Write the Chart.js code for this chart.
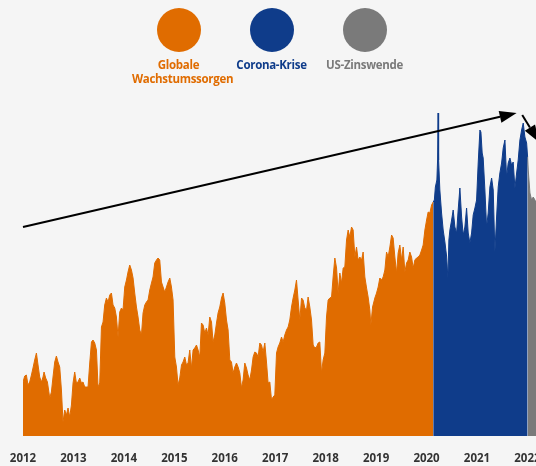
<!DOCTYPE html>
<html>
<head>
<meta charset="utf-8">
<script src="https://cdn.jsdelivr.net/npm/chart.js@4"></script>
<style>
  body { margin: 0; background: #f5f5f5; }
  #wrap { position: relative; width: 536px; height: 466px; overflow: hidden; }
  #myChart { position: absolute; left: 0; top: 0; }
  #legend { position: absolute; left: 132px; top: 8px; display: flex; }
  .item { width: 93px; text-align: center; font: bold 11.5px "Open Sans", sans-serif; line-height: 14.4px; letter-spacing: -0.3px; }
  .dot { width: 44px; height: 44px; border-radius: 50%; margin: 0 auto 6px; }
</style>
</head>
<body>
<div id="wrap">
  <canvas id="myChart" width="536" height="466"></canvas>
  <div id="legend"></div>
</div>
<script>
"use strict";

// decimal years and index level
const years = [
  2012.000, 2012.034, 2012.067, 2012.099, 2012.133, 2012.167, 2012.198, 2012.232, 2012.266, 2012.298, 2012.331, 2012.365, 2012.397, 2012.417, 2012.450, 2012.484, 2012.530, 2012.563, 2012.595, 2012.629, 2012.662, 2012.694, 2012.728, 2012.762, 2012.793, 2012.827, 2012.861, 2012.893, 2012.926, 2012.960, 2012.992,
  2013.025, 2013.059, 2013.091, 2013.125, 2013.158, 2013.190, 2013.224, 2013.257, 2013.289, 2013.323, 2013.357, 2013.388, 2013.422, 2013.456, 2013.488, 2013.521, 2013.555, 2013.587, 2013.620, 2013.654, 2013.686, 2013.720, 2013.753, 2013.785, 2013.819, 2013.852, 2013.884, 2013.918, 2013.952, 2013.983,
  2014.017, 2014.051, 2014.082, 2014.116, 2014.150, 2014.182, 2014.215, 2014.249, 2014.281, 2014.315, 2014.348, 2014.380, 2014.414, 2014.447, 2014.479, 2014.513, 2014.547, 2014.578, 2014.612, 2014.646, 2014.677, 2014.711, 2014.745, 2014.777, 2014.810, 2014.844, 2014.876, 2014.910, 2014.943, 2014.975,
  2015.009, 2015.042, 2015.074, 2015.108, 2015.142, 2015.173, 2015.207, 2015.241, 2015.272, 2015.306, 2015.340, 2015.372, 2015.405, 2015.439, 2015.471, 2015.505, 2015.538, 2015.570, 2015.604, 2015.637, 2015.669, 2015.703, 2015.737, 2015.768, 2015.802, 2015.836, 2015.867, 2015.901, 2015.935, 2015.967,
  2016.000, 2016.034, 2016.066, 2016.100, 2016.133, 2016.165, 2016.199, 2016.232, 2016.264, 2016.298, 2016.332, 2016.363, 2016.397, 2016.431, 2016.462, 2016.496, 2016.530, 2016.562, 2016.595, 2016.629, 2016.661, 2016.695, 2016.728, 2016.760, 2016.794, 2016.827, 2016.859, 2016.893, 2016.927, 2016.958, 2016.992,
  2017.026, 2017.057, 2017.091, 2017.125, 2017.157, 2017.190, 2017.224, 2017.256, 2017.289, 2017.323, 2017.355, 2017.389, 2017.422, 2017.454, 2017.488, 2017.522, 2017.553, 2017.587, 2017.621, 2017.652, 2017.686, 2017.720, 2017.752, 2017.785, 2017.819, 2017.851, 2017.884, 2017.918, 2017.950, 2017.984,
  2018.017, 2018.049, 2018.083, 2018.117, 2018.148, 2018.182, 2018.216, 2018.247, 2018.281, 2018.315, 2018.347, 2018.380, 2018.414, 2018.446, 2018.479, 2018.513, 2018.545, 2018.579, 2018.612, 2018.644, 2018.678, 2018.712, 2018.743, 2018.777, 2018.811, 2018.842, 2018.876, 2018.896, 2018.930, 2018.975,
  2019.009, 2019.041, 2019.074, 2019.108, 2019.140, 2019.174, 2019.207, 2019.239, 2019.273, 2019.307, 2019.338, 2019.372, 2019.406, 2019.437, 2019.471, 2019.505, 2019.537, 2019.570, 2019.604, 2019.636, 2019.669, 2019.703, 2019.735, 2019.769, 2019.802, 2019.834, 2019.868, 2019.902, 2019.933, 2019.967,
  2020.001, 2020.032, 2020.066, 2020.100, 2020.132,
  2020.155, 2020.175, 2020.205, 2020.219, 2020.229, 2020.239, 2020.264, 2020.298, 2020.330, 2020.364, 2020.397, 2020.423, 2020.443, 2020.463, 2020.497, 2020.528, 2020.562, 2020.596, 2020.627, 2020.661, 2020.695, 2020.727, 2020.760, 2020.794, 2020.826, 2020.859, 2020.893, 2020.925, 2020.959, 2020.992,
  2021.024, 2021.058, 2021.078, 2021.103, 2021.123, 2021.157, 2021.191, 2021.222, 2021.256, 2021.290, 2021.322, 2021.355, 2021.389, 2021.421, 2021.454, 2021.488, 2021.520, 2021.554, 2021.587, 2021.619, 2021.653, 2021.687, 2021.718, 2021.752, 2021.786, 2021.817, 2021.851, 2021.885, 2021.917, 2021.950, 2021.984,
  2022.004, 2022.016, 2022.050, 2022.083, 2022.115, 2022.149, 2022.190
];
const values = [
  54, 60, 61, 51, 54, 61, 68, 76, 83, 71, 59, 54, 59, 64, 58, 54, 38, 44, 59, 74, 80, 74, 69, 46, 14, 26, 21, 28, 19, 31, 53,
  64, 53, 54, 58, 53, 54, 49, 49, 49, 73, 94, 96, 93, 86, 49, 53, 109, 114, 131, 138, 134, 141, 143, 131, 128, 119, 99, 124, 128, 126,
  149, 156, 164, 171, 166, 158, 143, 129, 119, 106, 101, 123, 131, 134, 136, 146, 153, 159, 173, 176, 178, 176, 154, 149, 144, 149, 154, 158, 149, 136,
  79, 69, 51, 58, 71, 74, 79, 71, 73, 86, 68, 86, 88, 91, 86, 79, 113, 111, 103, 108, 101, 119, 114, 94, 101, 113, 123, 129, 138, 143,
  133, 116, 106, 76, 74, 63, 69, 73, 69, 63, 48, 56, 73, 68, 61, 56, 66, 79, 84, 83, 79, 93, 91, 84, 93, 74, 53, 54, 36, 39, 41,
  83, 89, 93, 99, 94, 101, 106, 109, 116, 129, 138, 146, 156, 136, 116, 138, 136, 128, 126, 139, 129, 116, 91, 88, 89, 93, 94, 63, 76, 83,
  119, 136, 138, 139, 159, 178, 168, 143, 163, 153, 168, 169, 196, 206, 199, 209, 206, 179, 189, 176, 179, 176, 184, 159, 148, 139, 126, 111, 129, 138,
  143, 149, 158, 156, 159, 166, 184, 179, 189, 201, 198, 179, 163, 183, 191, 176, 189, 164, 173, 176, 184, 179, 168, 176, 178, 179, 181, 186, 191, 206,
  216, 224, 223, 231, 234,
  236, 249, 256, 276, 323, 276, 246, 223, 206, 194, 180, 158, 196, 206, 216, 226, 209, 203, 226, 248, 219, 201, 209, 228, 203, 193, 203, 221, 228, 236,
  273, 306, 304, 283, 278, 246, 209, 223, 249, 258, 246, 184, 219, 249, 263, 273, 288, 296, 259, 273, 278, 271, 274, 248, 263, 276, 296, 306, 313, 299, 293,
  279, 266, 243, 236, 239, 236, 231
];

const phaseNames = ["Globale Wachstumssorgen", "Corona-Krise", "US-Zinswende"];
const phaseEnds = [2020.132, 2022.004, 2022.19];
const phaseColors = ["#e06c00", "#0f3c8a", "#7a7a7a"];
const yearTicks = [2012, 2013, 2014, 2015, 2016, 2017, 2018, 2019, 2020, 2021, 2022];

// trend arrows, in [year, level]
const arrows = [
  { from: [2012.0, 209], to: [2021.786, 323] },
  { from: [2021.897, 321], to: [2022.226, 294] }
];

function phaseData(i) {
  const from = i === 0 ? years[0] : phaseEnds[i - 1];
  const to = phaseEnds[i];
  const pts = [];
  years.forEach((yr, k) => {
    if (yr >= from && yr <= to) pts.push({ x: yr, y: values[k] });
  });
  return pts;
}

const arrowPlugin = {
  id: "arrows",
  afterDatasetsDraw(chart) {
    const ctx = chart.ctx;
    const xs = chart.scales.x;
    const ys = chart.scales.y;
    ctx.save();
    ctx.strokeStyle = "#000";
    ctx.fillStyle = "#000";
    ctx.lineWidth = 2;
    arrows.forEach(a => {
      const x1 = xs.getPixelForValue(a.from[0]);
      const y1 = ys.getPixelForValue(a.from[1]);
      const x2 = xs.getPixelForValue(a.to[0]);
      const y2 = ys.getPixelForValue(a.to[1]);
      const ang = Math.atan2(y2 - y1, x2 - x1);
      const len = 17, half = 6;
      const bx = x2 - len * Math.cos(ang);
      const by = y2 - len * Math.sin(ang);
      ctx.beginPath();
      ctx.moveTo(x1, y1);
      ctx.lineTo(bx, by);
      ctx.stroke();
      ctx.beginPath();
      ctx.moveTo(x2, y2);
      ctx.lineTo(bx + half * Math.sin(ang), by - half * Math.cos(ang));
      ctx.lineTo(bx - half * Math.sin(ang), by + half * Math.cos(ang));
      ctx.closePath();
      ctx.fill();
    });
    ctx.restore();
  }
};

const datasets = phaseNames.map((name, i) => ({
  label: name,
  data: phaseData(i),
  backgroundColor: phaseColors[i],
  borderColor: phaseColors[i],
  borderWidth: 1,
  pointRadius: 0,
  tension: 0,
  fill: "origin"
}));

const ctx = document.getElementById("myChart").getContext("2d");
const chart = new Chart(ctx, {
  type: "line",
  data: { datasets: datasets },
  options: {
    responsive: false,
    animation: false,
    layout: { padding: { top: 100, left: 23, right: 0, bottom: 0 } },
    plugins: { legend: { display: false }, tooltip: { enabled: false } },
    scales: {
      x: {
        type: "linear",
        min: 2012,
        max: 2022.17,
        grid: { display: false, drawTicks: false },
        border: { display: false },
        afterBuildTicks: s => { s.ticks = yearTicks.map(v => ({ value: v })); },
        afterFit: s => { s.paddingLeft = 0; s.paddingRight = 0; s.height = 30; },
        ticks: {
          padding: 16,
          color: "#333",
          maxRotation: 0,
          autoSkip: false,
          font: { family: "'Open Sans', sans-serif", weight: "bold", size: 11.5 },
          callback: v => String(v)
        }
      },
      y: { display: false, min: 0, max: 336 }
    }
  },
  plugins: [arrowPlugin]
});

// legend: coloured circles with the phase names underneath
const legend = document.getElementById("legend");
chart.data.datasets.forEach(ds => {
  const item = document.createElement("div");
  item.className = "item";
  item.style.color = ds.backgroundColor;
  item.innerHTML = `<div class="dot" style="background:${ds.backgroundColor}"></div>${ds.label}`;
  legend.appendChild(item);
});
</script>
</body>
</html>
